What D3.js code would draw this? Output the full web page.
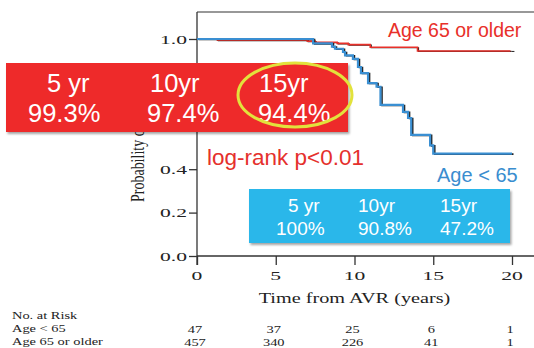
<!DOCTYPE html>
<html>
<head>
<meta charset="utf-8">
<script src="https://cdn.jsdelivr.net/npm/d3@7"></script>
<style>
  html, body { margin: 0; padding: 0; background: #fff; }
  svg { display: block; }
</style>
</head>
<body>
<svg id="chart" width="534" height="348"></svg>
<script>
// data
const xTicks = [0, 5, 10, 15, 20];
const yTicks = [0, 0.2, 0.4, 0.6, 0.8, 1.0];
// 0.6 and 0.8 labels sit under the red box in the source
const yLabelTicks = [0, 0.2, 0.4, 1.0];

const youngTime = [0, 7.37, 8.57, 8.76, 9.27, 9.4, 9.9, 10.22, 10.41, 10.86, 11.4, 11.65, 13.08, 13.4, 13.6, 14.8, 15.0, 20.0];
const youngSurv = [1, 0.98, 0.965, 0.955, 0.94, 0.925, 0.908, 0.871, 0.843, 0.797, 0.78, 0.696, 0.664, 0.636, 0.558, 0.51, 0.472, 0.472];

const oldTime = [0, 1.3, 7.0, 7.5, 8.9, 9.6, 11.0, 14.0, 19.9];
const oldSurv = [1, 0.995, 0.99, 0.985, 0.98, 0.974, 0.962, 0.945, 0.945];

const riskGroups = ['Age < 65', 'Age 65 or older'];
const riskYoung = [47, 37, 25, 6, 1];
const riskOld = [457, 340, 226, 41, 1];

const oldHeaders = ['5 yr', '10yr', '15yr'];
const oldRates = ['99.3%', '97.4%', '94.4%'];
const youngHeaders = ['5 yr', '10yr', '15yr'];
const youngRates = ['100%', '90.8%', '47.2%'];

// layout
const svg = d3.select('#chart');
const x = d3.scaleLinear().domain([0, 20]).range([197, 512]);
const y = d3.scaleLinear().domain([0, 1]).range([256, 39]);
const serif = '"Liberation Serif", "Times New Roman", serif';
const sans = '"Liberation Sans", Arial, sans-serif';

// stretched serif text, like the source picture
function stext(px, py, str, size, sx, anchor) {
  return svg.append('text')
    .attr('transform', `translate(${px},${py}) scale(${sx},1)`)
    .attr('text-anchor', anchor || 'start')
    .style('font-family', serif)
    .style('font-size', size + 'px')
    .style('fill', '#222')
    .text(str);
}

const defs = svg.append('defs');
const shadow = defs.append('filter').attr('id', 'shadow')
  .attr('x', '-5%').attr('y', '-5%').attr('width', '115%').attr('height', '125%');
shadow.append('feDropShadow').attr('dx', 1.5).attr('dy', 2).attr('stdDeviation', 1.2)
  .attr('flood-color', '#000').attr('flood-opacity', 0.35);

// frame + axes
svg.append('line').attr('x1', x(0)).attr('x2', 540).attr('y1', 12).attr('y2', 12)
  .attr('stroke', '#333').attr('stroke-width', 1.2);

const xAxis = svg.append('g')
  .attr('transform', `translate(0,${y(0)})`)
  .call(d3.axisBottom(x).tickValues(xTicks).tickSize(9).tickFormat(''));
xAxis.select('.domain').attr('d', `M${x(0)},0H540`);
xAxis.selectAll('line, path').attr('stroke', '#333').attr('stroke-width', 1.3);

const yAxis = svg.append('g')
  .attr('transform', `translate(${x(0)},0)`)
  .call(d3.axisLeft(y).tickValues(yTicks).tickSize(8).tickFormat(''));
yAxis.select('.domain').attr('d', `M0,12V265`);
yAxis.selectAll('line, path').attr('stroke', '#333').attr('stroke-width', 1.3);

xTicks.forEach(t => stext(x(t), 280, String(t), 13.5, 1.6, 'middle'));
yLabelTicks.forEach(t => stext(187, y(t) + 4.5, d3.format('.1f')(t), 13.5, 1.6, 'end'));

stext(x(10), 303, 'Time from AVR (years)', 15, 1.35, 'middle');

svg.append('text')
  .attr('transform', 'translate(144,202) scale(1.3,1) rotate(-90)')
  .style('font-family', serif).style('font-size', '14px').style('fill', '#222')
  .text('Probability of Survival');

// curves
const line = d3.line().curve(d3.curveStepAfter).x(d => x(d[0])).y(d => y(d[1]));
const young = youngTime.map((t, i) => [t, youngSurv[i]]);
const old = oldTime.map((t, i) => [t, oldSurv[i]]);

svg.append('path').attr('d', line(old)).attr('transform', 'translate(1,0.5)')
  .attr('fill', 'none').attr('stroke', '#222').attr('stroke-width', 1.2);
svg.append('path').attr('d', line(old))
  .attr('fill', 'none').attr('stroke', '#e8302a').attr('stroke-width', 1.6);
svg.append('path').attr('d', line(young)).attr('transform', 'translate(1.5,0.5)')
  .attr('fill', 'none').attr('stroke', '#222').attr('stroke-width', 1.6);
svg.append('path').attr('d', line(young))
  .attr('fill', 'none').attr('stroke', '#3a8fd2').attr('stroke-width', 2.2);
svg.append('line').attr('x1', x(19.9) + 1).attr('x2', x(19.9) + 4)
  .attr('y1', y(0.945) + 0.5).attr('y2', y(0.945) + 0.5).attr('stroke', '#222');

// annotations
svg.append('text').attr('x', 388).attr('y', 37)
  .style('font-family', sans).style('font-size', '19.5px').style('fill', '#e8302a')
  .text('Age 65 or older');
svg.append('text').attr('x', 207).attr('y', 165)
  .style('font-family', sans).style('font-size', '22.5px').style('fill', '#e5302c')
  .text('log-rank p<0.01');
svg.append('text').attr('x', 437).attr('y', 182)
  .style('font-family', sans).style('font-size', '20px').style('fill', '#3a8dcf')
  .text('Age < 65');

// red box
svg.append('rect').attr('x', 6).attr('y', 63).attr('width', 342).attr('height', 69)
  .attr('fill', '#ee2a2a').attr('filter', 'url(#shadow)');
const redHeadX = [47, 150, 259];
const redRateX = [28, 147, 258];
oldHeaders.forEach((h, i) => svg.append('text').attr('x', redHeadX[i]).attr('y', 92)
  .style('font-family', sans).style('font-size', '25.5px').style('fill', '#fff').text(h));
oldRates.forEach((r, i) => svg.append('text').attr('x', redRateX[i]).attr('y', 122)
  .style('font-family', sans).style('font-size', '25.5px').style('fill', '#fff').text(r));
svg.append('ellipse').attr('cx', 295).attr('cy', 95).attr('rx', 57).attr('ry', 32)
  .attr('fill', 'none').attr('stroke', '#e2e23c').attr('stroke-width', 3);

// blue box
svg.append('rect').attr('x', 249).attr('y', 189).attr('width', 261).attr('height', 54)
  .attr('fill', '#2cb7ea').attr('filter', 'url(#shadow)');
const blueHeadX = [288, 358, 440];
const blueRateX = [276, 358, 440];
youngHeaders.forEach((h, i) => svg.append('text').attr('x', blueHeadX[i]).attr('y', 212)
  .style('font-family', sans).style('font-size', '19px').style('fill', '#fff').text(h));
youngRates.forEach((r, i) => svg.append('text').attr('x', blueRateX[i]).attr('y', 235)
  .style('font-family', sans).style('font-size', '19px').style('fill', '#fff').text(r));

// number at risk
stext(12, 319, 'No. at Risk', 9.3, 1.55);
stext(12, 332, riskGroups[0], 9.3, 1.55);
stext(12, 345, riskGroups[1], 9.3, 1.55);
riskYoung.forEach((n, i) => stext(x(xTicks[i]) - 2, 333, String(n), 9.3, 1.55, 'middle'));
riskOld.forEach((n, i) => stext(x(xTicks[i]) - 2, 346, String(n), 9.3, 1.55, 'middle'));
</script>
</body>
</html>
